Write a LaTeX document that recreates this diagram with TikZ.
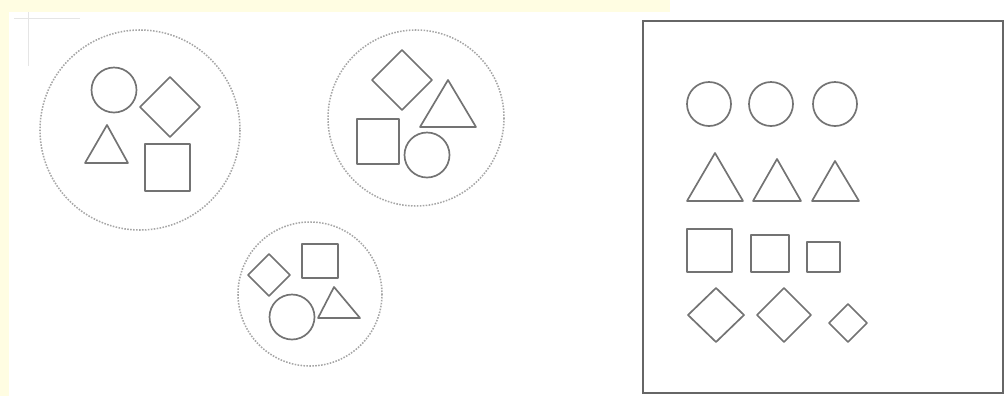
\documentclass[tikz,border=0pt]{standalone}
\usepackage{tikz}
\definecolor{paper}{RGB}{255,253,226}

\begin{document}
\begin{tikzpicture}[x=0.025cm, y=-0.025cm,
    shp/.style={draw=black!55, line width=1.2pt, line join=round},
    grp/.style={draw=black!35, densely dotted, line width=1.1pt}]
    \useasboundingbox (0,0) rectangle (1005,396);
    \fill[paper] (0,0) rectangle (670,12);
    \fill[paper] (0,0) rectangle (9,396);
    \draw[black!10, line width=0.6pt] (14,18) -- (80,18) (28,12) -- (28,66);
    % mixed groups
    \draw[grp] (140,130) circle (100);
    \draw[shp] (114,90) circle (22.5);
    \draw[shp] (140,107) -- (170,77) -- (200,107) -- (170,137) -- cycle;
    \draw[shp] (107,125) -- (128,163) -- (85,163) -- cycle;
    \draw[shp] (145,144) rectangle (190,191);
    \draw[grp] (416,118) circle (88);
    \draw[shp] (372,80) -- (402,50) -- (432,80) -- (402,110) -- cycle;
    \draw[shp] (448,80) -- (476,127) -- (420,127) -- cycle;
    \draw[shp] (357,119) rectangle (399,164);
    \draw[shp] (427,155) circle (22.5);
    \draw[grp] (310,294) circle (72);
    \draw[shp] (248,275) -- (269,254) -- (290,275) -- (269,296) -- cycle;
    \draw[shp] (302,244) rectangle (338,278);
    \draw[shp] (334,287) -- (360,318) -- (318,318) -- cycle;
    \draw[shp] (292,317) circle (22.5);
    % sorted box
    \draw[black!60, line width=1.1pt] (643,21) rectangle (1003,393);
    \draw[shp] (709,104) circle (22) (771,104) circle (22) (835,104) circle (22);
    \draw[shp] (715,153) -- (743,201) -- (687,201) -- cycle;
    \draw[shp] (777,159) -- (801,201) -- (753,201) -- cycle;
    \draw[shp] (835,161) -- (859,201) -- (812,201) -- cycle;
    \draw[shp] (687,229) rectangle (732,272);
    \draw[shp] (751,235) rectangle (789,272);
    \draw[shp] (807,242) rectangle (840,272);
    \draw[shp] (688,315) -- (716,288) -- (744,315) -- (716,342) -- cycle;
    \draw[shp] (757,315) -- (784,288) -- (811,315) -- (784,342) -- cycle;
    \draw[shp] (829,323) -- (848,304) -- (867,323) -- (848,342) -- cycle;
\end{tikzpicture}
\end{document}
